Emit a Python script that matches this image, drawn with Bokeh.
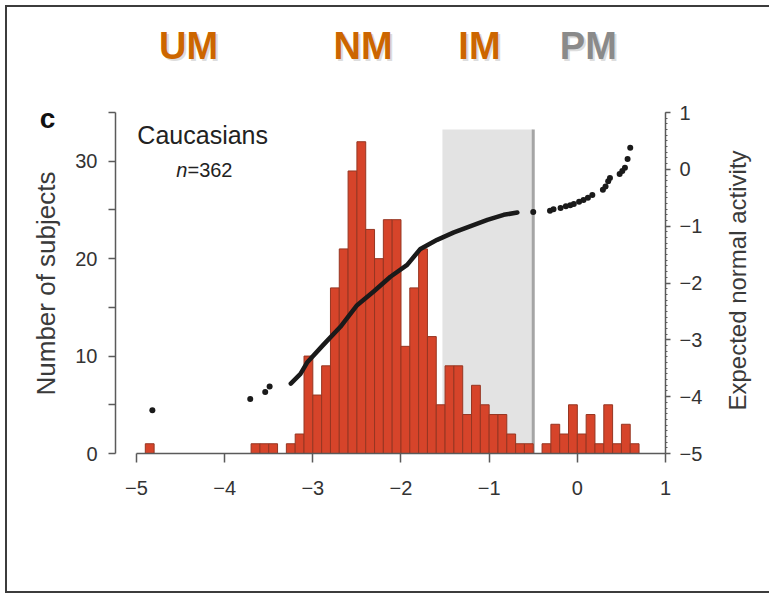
import math

from bokeh.plotting import figure
from bokeh.layouts import row
from bokeh.models import Range1d, LinearAxis, FixedTicker, Label
from bokeh.embed import file_html
from bokeh.resources import INLINE

# Histogram: left edge of each 0.1-wide activity bin and the number of subjects in it
bin_left = [-4.9, -3.7, -3.6, -3.5,
            -3.3, -3.2, -3.1, -3.0, -2.9, -2.8, -2.7, -2.6, -2.5, -2.4,
            -2.3, -2.2, -2.1, -2.0, -1.9, -1.8, -1.7, -1.6, -1.5, -1.4,
            -1.3, -1.2, -1.1, -1.0, -0.9, -0.8, -0.7, -0.6,
            -0.4, -0.3, -0.2, -0.1, 0.0, 0.1, 0.2, 0.3, 0.4, 0.5, 0.6]
counts = [1, 1, 1, 1,
          1, 2, 10, 6, 9, 17, 21, 29, 32, 23,
          20, 24, 24, 11, 17, 21, 12, 5, 9, 9,
          4, 7, 5, 4, 4, 2, 1, 1,
          1, 3, 2, 5, 2, 4, 1, 5, 1, 3, 1]
bin_width = 0.1

# Expected normal activity vs observed activity: dense central run of points
curve_x = [-3.25, -3.14, -3.065, -2.876, -2.687, -2.498, -2.31, -2.12,
           -1.93, -1.78, -1.59, -1.40, -1.21, -1.02, -0.835, -0.68]
curve_v = [-3.77, -3.60, -3.40, -3.08, -2.77, -2.39, -2.15, -1.89,
           -1.68, -1.40, -1.24, -1.11, -1.00, -0.89, -0.80, -0.76]

# Expected normal activity: isolated subjects in the tails
dot_x = [-4.82, -3.71, -3.54, -3.49,
         -0.50, -0.31, -0.27, -0.19, -0.13, -0.08, -0.04, 0.02, 0.07, 0.12,
         0.17, 0.29, 0.32, 0.35, 0.37, 0.48, 0.51, 0.54, 0.57, 0.60]
dot_v = [-4.24, -4.04, -3.92, -3.82,
         -0.75, -0.73, -0.70, -0.68, -0.65, -0.63, -0.61, -0.57, -0.54, -0.50,
         -0.45, -0.36, -0.30, -0.21, -0.15, -0.08, -0.03, 0.03, 0.18, 0.38]

# Intermediate-metabolizer activity window
im_window = (-1.53, -0.5)
im_window_top = 33.25

# Phenotype headings
phenotypes = ["UM", "NM", "IM", "PM"]
phenotype_x = [-4.41, -2.43, -1.11, 0.125]
phenotype_colors = ["#CC6600", "#CC6600", "#CC6600", "#8A8A8A"]

x_ticks = [-5, -4, -3, -2, -1, 0, 1]
count_ticks = [0, 5, 10, 15, 20, 25, 30, 35]
count_labels = {0: "0", 5: "", 10: "10", 15: "", 20: "20", 25: "", 30: "30", 35: ""}
expected_ticks = [-5, -4, -3, -2, -1, 0, 1]


def signed(v):
    return ("\u2212" + str(abs(v))) if v < 0 else str(v)


FONT = "Liberation Sans"
AXIS_COLOR = "#5a5a5a"
TEXT_COLOR = "#333333"
H = 584          # common height of the three strips
FRAME_H = 446    # height of the (row-aligned) plotting frames
LEFT_W = 61      # strip holding the panel letter and the count title
RIGHT_W = 57     # strip holding the right-hand title
MAIN_W = 644


def text_strip(width):
    """A plain strip addressed in pixels from the top-left of its frame."""
    s = figure(width=width, height=H, x_range=Range1d(0, width), y_range=Range1d(FRAME_H, 0),
               x_axis_type=None, y_axis_type=None, output_backend="svg",
               toolbar_location=None, min_border=0)
    s.outline_line_color = None
    s.xgrid.visible = False
    s.ygrid.visible = False
    return s


# ---- main chart: its frame reaches the top so the headings sit inside it ----
p = figure(width=MAIN_W, height=H,
           x_range=Range1d(-5.238, 1.0), y_range=Range1d(0, 45.78),
           output_backend="svg", toolbar_location=None,
           min_border_left=47, min_border_right=47,
           min_border_top=0, min_border_bottom=H - FRAME_H)
p.extra_y_ranges = {"expected": Range1d(-5, 2.848)}
p.outline_line_color = None
p.xgrid.visible = False
p.ygrid.visible = False

# shaded IM window and its right-hand cut-off
p.quad(left=[im_window[0]], right=[im_window[1]], bottom=[0], top=[im_window_top],
       fill_color="#E3E3E3", line_color=None)
p.segment(x0=[im_window[1]], y0=[0], x1=[im_window[1]], y1=[im_window_top],
          line_color="#A5A5A5", line_width=3)

# histogram bars
bin_right = [b + bin_width for b in bin_left]
p.quad(left=bin_left, right=bin_right, bottom=0, top=counts,
       fill_color="#D6442A", line_color="#963622", line_width=1)

# probability plot points on the right-hand scale
p.line(curve_x, curve_v, y_range_name="expected", line_color="#1a1a1a",
       line_width=4.5, line_join="round", line_cap="round")
p.scatter(dot_x, dot_v, y_range_name="expected", size=6,
          fill_color="#1a1a1a", line_color=None)

# axes
xaxis = p.xaxis[0]
xaxis.ticker = FixedTicker(ticks=x_ticks)
xaxis.major_label_overrides = {t: signed(t) for t in x_ticks}
xaxis.bounds = (x_ticks[0], x_ticks[-1])

yaxis = p.yaxis[0]
yaxis.ticker = FixedTicker(ticks=count_ticks)
yaxis.major_label_overrides = count_labels
yaxis.bounds = (count_ticks[0], count_ticks[-1])

raxis = LinearAxis(y_range_name="expected")
raxis.ticker = FixedTicker(ticks=expected_ticks,
                           minor_ticks=[round(-5 + 0.1 * k, 1) for k in range(61)])
raxis.major_label_overrides = {t: signed(t) for t in expected_ticks}
raxis.bounds = (expected_ticks[0], expected_ticks[-1])
p.add_layout(raxis, "right")

for ax in (xaxis, yaxis, raxis):
    ax.axis_line_color = AXIS_COLOR
    ax.axis_line_width = 1.5
    ax.major_tick_line_color = AXIS_COLOR
    ax.major_tick_line_width = 1.5
    ax.major_tick_in = 0
    ax.major_tick_out = 7
    ax.minor_tick_line_color = None
    ax.major_label_text_font = FONT
    ax.major_label_text_font_size = "20px"
    ax.major_label_text_color = TEXT_COLOR
    ax.major_label_standoff = 8

xaxis.major_tick_out = 9
xaxis.major_label_standoff = 18
yaxis.major_label_standoff = 11
raxis.major_tick_out = 5
raxis.minor_tick_line_color = AXIS_COLOR
raxis.minor_tick_in = 0
raxis.minor_tick_out = 2
raxis.major_label_standoff = 9

# population annotation
p.add_layout(Label(x=-4.99, y=32.74, text="Caucasians", text_align="left",
                   text_baseline="middle", text_font=FONT, text_font_size="25px",
                   text_color="#222222"))
p.add_layout(Label(x=-4.422, y=29.05, text="n", text_align="right", text_baseline="middle",
                   text_font=FONT, text_font_style="italic", text_font_size="20px",
                   text_color="#222222"))
p.add_layout(Label(x=-4.422, y=29.05, text="=362", text_align="left", text_baseline="middle",
                   text_font=FONT, text_font_size="20px", text_color="#222222"))

# phenotype headings with a soft drop shadow
for name, px, col in zip(phenotypes, phenotype_x, phenotype_colors):
    p.add_layout(Label(x=px, y=41.8, x_offset=2, y_offset=-2, text=name,
                       text_align="center", text_baseline="middle",
                       text_font=FONT, text_font_style="bold", text_font_size="38px",
                       text_color="#bbbbbb", text_alpha=0.5))
    p.add_layout(Label(x=px, y=41.8, text=name, text_align="center", text_baseline="middle",
                       text_font=FONT, text_font_style="bold", text_font_size="38px",
                       text_color=col))

# ---- left strip: panel letter and count-axis title ----
left = text_strip(LEFT_W)
left.add_layout(Label(x=40, y=111, text="c", text_align="center", text_baseline="middle",
                      text_font=FONT, text_font_style="bold", text_font_size="28px",
                      text_color="#111111"))
left.add_layout(Label(x=38, y=276, text="Number of subjects", angle=math.pi / 2,
                      text_align="center", text_baseline="middle", text_font=FONT,
                      text_font_size="26px", text_color="#3a3a3a"))

# ---- right strip: expected-activity axis title ----
right = text_strip(RIGHT_W)
right.add_layout(Label(x=25, y=273, text="Expected normal activity", angle=math.pi / 2,
                       text_align="center", text_baseline="middle", text_font=FONT,
                       text_font_size="24px", text_color="#3a3a3a"))

layout = row(left, p, right)
layout.styles = {"margin-left": "5px", "margin-top": "5px",
                 "border-left": "2px solid #3c3c3c",
                 "border-top": "2px solid #3c3c3c",
                 "border-bottom": "2px solid #3c3c3c"}

open("out.html", "w").write(file_html(layout, INLINE))
